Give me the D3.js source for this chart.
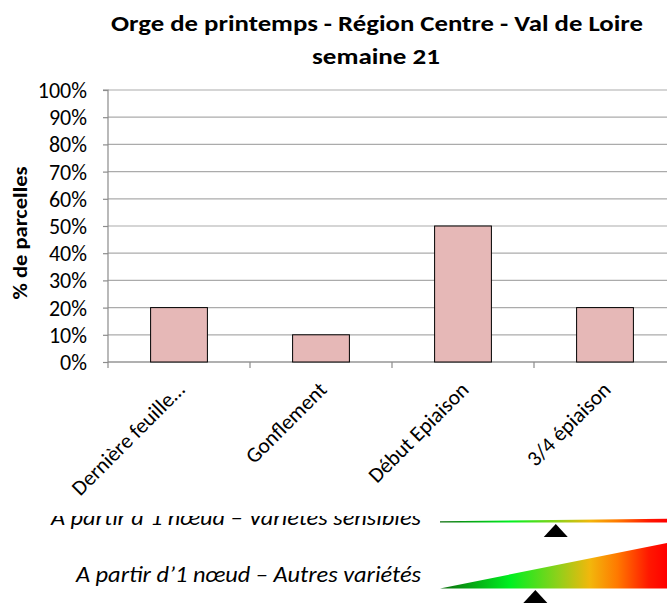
<!DOCTYPE html>
<html><head><meta charset="utf-8">
<script src="https://cdn.jsdelivr.net/npm/d3@7"></script>
<style>
html,body{margin:0;padding:0;background:#fff;}
svg{display:block;font-family:Carlito, Lato, "Liberation Sans", sans-serif;}
</style></head>
<body>
<svg id="c" width="667" height="603"></svg>
<script>
const titleLines = ["Orge de printemps - Région Centre - Val de Loire", "semaine 21"];
const yAxisTitle = "% de parcelles";
const categories = ["Dernière feuille…", "Gonflement", "Début Epiaison", "3/4 épiaison"];
const values = [0.20, 0.10, 0.50, 0.20];
const yTicks = [0, 0.1, 0.2, 0.3, 0.4, 0.5, 0.6, 0.7, 0.8, 0.9, 1.0];
const gaugeLabels = ["A partir d’1 nœud – Variétés sensibles", "A partir d’1 nœud – Autres variétés"];
const gaugeMarkers = [0.51, 0.42];
const gaugeStops = [
  {o: 0, c: "#0b6b0b"}, {o: 0.31, c: "#00f020"}, {o: 0.52, c: "#8fd01a"},
  {o: 0.66, c: "#f2b70c"}, {o: 0.78, c: "#ff7a00"}, {o: 0.92, c: "#ff1800"}, {o: 1, c: "#ff0000"}
];

(function () {
const svg = d3.select("#c");
const W = 667, H = 603;
const pL = 108, pR = 676, pT = 90, pB = 362;

const x = d3.scaleBand().domain(categories).range([pL, pR]).paddingInner(0.6).paddingOuter(0.3);
const y = d3.scaleLinear().domain([0, 1]).range([pB, pT]);

// gridlines
svg.append("g").selectAll("line").data(yTicks).join("line")
  .attr("x1", pL).attr("x2", W).attr("y1", d => y(d)).attr("y2", d => y(d))
  .attr("stroke", "#ababab").attr("stroke-width", 1.2);

// y axis
const yAxis = d3.axisLeft(y).tickValues(yTicks).tickFormat(d3.format(".0%")).tickSize(5).tickPadding(16);
const gy = svg.append("g").attr("transform", `translate(${pL},0)`).call(yAxis);
gy.select(".domain").attr("stroke", "#8c8c8c").attr("stroke-width", 1.2).attr("d", `M-5,${pT}H0V${pB}`);
gy.selectAll(".tick line").attr("stroke", "#8c8c8c").attr("stroke-width", 1.2);
gy.selectAll(".tick text").attr("fill", "#000").style("font-size", "22px").style("font-family", "Carlito, Lato, sans-serif").attr("dy", "0.34em");

// x axis line & ticks
const step = x.step();
const bounds = categories.map((c, i) => pL + i * step);
svg.append("line").attr("x1", pL).attr("x2", W).attr("y1", pB).attr("y2", pB)
  .attr("stroke", "#8c8c8c").attr("stroke-width", 1.2);
svg.append("g").selectAll("line").data(bounds).join("line")
  .attr("x1", d => d).attr("x2", d => d).attr("y1", pB).attr("y2", pB + 6)
  .attr("stroke", "#8c8c8c").attr("stroke-width", 1.2);

// bars
svg.append("g").selectAll("rect").data(values).join("rect")
  .attr("x", (d, i) => x(categories[i])).attr("width", x.bandwidth())
  .attr("y", d => y(d)).attr("height", d => y(0) - y(d))
  .attr("fill", "#e6b8b7").attr("stroke", "#000").attr("stroke-width", 1);

// category labels
svg.append("g").selectAll("text").data(categories).join("text")
  .attr("transform", d => `translate(${x(d) + x.bandwidth() / 2 + 7},${pB + 29}) rotate(-45)`)
  .attr("text-anchor", "end").style("font-size", "21.5px").attr("fill", "#000")
  .text(d => d);

// y axis title
svg.append("text").attr("transform", `translate(27,${(pT + pB) / 2 + 7}) rotate(-90)`)
  .attr("text-anchor", "middle").style("font-size", "21px").style("font-weight", "bold")
  .attr("textLength", 133).attr("lengthAdjust", "spacingAndGlyphs")
  .text(yAxisTitle);

// title
svg.append("text").attr("x", 377).attr("y", 31).attr("text-anchor", "middle")
  .style("font-size", "22px").style("font-weight", "bold")
  .attr("textLength", 532).attr("lengthAdjust", "spacingAndGlyphs").text(titleLines[0]);
svg.append("text").attr("x", 376).attr("y", 64).attr("text-anchor", "middle")
  .style("font-size", "22px").style("font-weight", "bold")
  .attr("textLength", 128).attr("lengthAdjust", "spacingAndGlyphs").text(titleLines[1]);

// gauges
const defs = svg.append("defs");
const grad = defs.append("linearGradient").attr("id", "gg").attr("gradientUnits", "userSpaceOnUse")
  .attr("x1", 440).attr("x2", 667).attr("y1", 0).attr("y2", 0);
grad.selectAll("stop").data(gaugeStops).join("stop").attr("offset", d => d.o).attr("stop-color", d => d.c);
defs.append("clipPath").attr("id", "clip1").append("rect").attr("x", 0).attr("y", 516).attr("width", W).attr("height", 100);

const gx = d3.scaleLinear().domain([0, 1]).range([440, 667]);

// gauge 1 (thin)
svg.append("text").attr("clip-path", "url(#clip1)").attr("x", 421).attr("y", 525)
  .attr("text-anchor", "end").style("font-size", "22px").style("font-style", "italic")
  .attr("textLength", 370).attr("lengthAdjust", "spacingAndGlyphs").text(gaugeLabels[0]);
svg.append("path").attr("d", `M${gx(0)},521.3L${gx(1)},518.8L${gx(1)},522.4L${gx(0)},522.4Z`).attr("fill", "url(#gg)");
const m1 = gx(gaugeMarkers[0]);
svg.append("path").attr("d", `M${m1},524L${m1 + 12},537L${m1 - 12},537Z`).attr("fill", "#000");

// gauge 2 (wedge)
svg.append("text").attr("x", 421).attr("y", 582)
  .attr("text-anchor", "end").style("font-size", "22px").style("font-style", "italic")
  .attr("textLength", 345).attr("lengthAdjust", "spacingAndGlyphs").text(gaugeLabels[1]);
svg.append("path").attr("d", `M${gx(0)},588.5L${gx(1)},543L${gx(1)},588.5Z`).attr("fill", "url(#gg)");
const m2 = gx(gaugeMarkers[1]);
svg.append("path").attr("d", `M${m2},590L${m2 + 12},603L${m2 - 12},603Z`).attr("fill", "#000");
})();
</script>
</body></html>
